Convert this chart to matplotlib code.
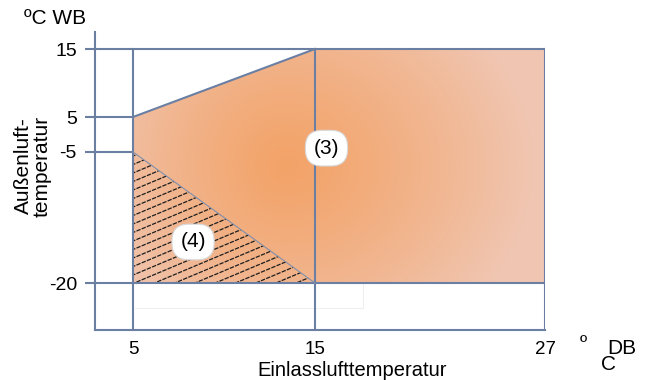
import numpy as np
import matplotlib.pyplot as plt
from matplotlib.patches import Polygon

# Einsatzbereich, Werte in °C
x_ticks = [5, 15, 27]
x_tick_labels = ["5", "15", "27"]
y_ticks = [15, 5, -5, -20]
y_tick_labels = ["15", "5", "-5", "-20"]

# Bereich (3): Heizbetrieb
area3_x = [5, 15, 27, 27, 5]
area3_y = [5, 15, 15, -20, -20]

# Bereich (4): schraffiert
area4_x = [5, 15, 5]
area4_y = [-5, -20, -20]

plt.rcParams['font.family'] = ['Liberation Sans', 'DejaVu Sans']

line_c = "#6b7fa3"

# die Achsen sind nicht linear, Stuetzstellen in Pixel
x_knots = [0, 5, 15, 27, 30]
x_px = [42, 133, 315, 545, 602.5]
y_knots = [-30, -20, -5, 5, 15, 20]
y_px = [9.67, 97, 228, 263, 331, 365]


def fwd_x(v):
    return np.interp(v, x_knots, x_px)


def inv_x(v):
    return np.interp(v, x_px, x_knots)


def fwd_y(v):
    return np.interp(v, y_knots, y_px)


def inv_y(v):
    return np.interp(v, y_px, y_knots)


fig = plt.figure(figsize=(6.48, 3.80), dpi=100)
ax = fig.add_axes([95 / 648, 50 / 380, 450 / 648, 298 / 380])
ax.set_xscale('function', functions=(fwd_x, inv_x))
ax.set_yscale('function', functions=(fwd_y, inv_y))

x0 = float(inv_x(95))
y0 = float(inv_y(50))
y1 = float(inv_y(348))

# Farbverlauf fuer Bereich (3)
W, H = 450, 298
xx, yy = np.meshgrid(np.arange(W) + 95, np.arange(H) + 32)
rx = np.where(xx < 285, 200, 250)
d = np.sqrt(((xx - 285) / rx) ** 2 + ((yy - 165) / 210) ** 2)
t = np.clip(d, 0, 1) ** 1.2
c_in = np.array([243, 163, 104]) / 255
c_out = np.array([240, 198, 178]) / 255
img = c_in * (1 - t)[..., None] + c_out * t[..., None]
im = ax.imshow(img, extent=(0, 1, 0, 1), transform=ax.transAxes,
               aspect='auto', zorder=1, interpolation='bilinear')

poly3 = Polygon(np.column_stack([area3_x, area3_y]), closed=True,
                fc='none', ec='none')
ax.add_patch(poly3)
im.set_clip_path(poly3)

# Schraffur fuer Bereich (4)
poly4 = Polygon(np.column_stack([area4_x, area4_y]), closed=True,
                fc='none', ec='none')
ax.add_patch(poly4)
for h0 in np.arange(-250, 300, 8.5):
    xs = np.array([0, 1])
    ys = (h0 + 0.42 * xs * W) / H
    ln, = ax.plot(xs, ys, transform=ax.transAxes, color="#1e1e1e", lw=0.9,
                  ls=(0, (3.5, 1.0)), zorder=2)
    ln.set_clip_path(poly4)

# Rasterlinien
for x in x_ticks:
    ax.plot([x, x], [y0, 15], color=line_c, lw=1.5, zorder=3)
ax.plot([x0, 27], [15, 15], color=line_c, lw=1.5, zorder=3)
ax.plot([x0, 5], [5, 5], color=line_c, lw=1.5, zorder=3)
ax.plot([x0, 5], [-5, -5], color=line_c, lw=1.5, zorder=3)
ax.plot([x0, 27], [-20, -20], color=line_c, lw=1.5, zorder=3)
ax.plot(area3_x[:2], area3_y[:2], color=line_c, lw=1.5, zorder=3)
ax.plot(area4_x[:2], area4_y[:2], color="#8090ad", lw=0.8, zorder=3)

# schwaches Rechteck unten
ax.plot([5.1, 17.5, 17.5], [-22.86, -22.86, -20], color="#efefef", lw=0.8, zorder=2)

ax.set_xlim(x0, 27)
ax.set_ylim(y0, y1)

for s in ['top', 'right']:
    ax.spines[s].set_visible(False)
for s in ['left', 'bottom']:
    ax.spines[s].set_color(line_c)
    ax.spines[s].set_linewidth(1.5)

ax.set_yticks(y_ticks, y_tick_labels)
ax.set_xticks(x_ticks, x_tick_labels)
ax.tick_params(axis='y', length=7, width=1.5, color=line_c, pad=6, labelsize=14)
ax.tick_params(axis='x', length=0, pad=8, labelsize=13.5)
ax.minorticks_off()

box = dict(boxstyle='round,pad=0.4,rounding_size=0.8', fc='white', ec='#d8d8d8', lw=0.8)
ax.text(15.6, -3.9, "(3)", fontsize=15, ha='center', va='center', bbox=box, zorder=5)
ax.text(8.3, -15.3, "(4)", fontsize=15, ha='center', va='center', bbox=box, zorder=5)

fig.text(55 / 648, 1 - 19 / 380, "ºC WB", fontsize=15, ha='center', va='center')
fig.text(33 / 648, 1 - 166 / 380, "Außenluft-\ntemperatur", fontsize=15,
         rotation=90, ha='center', va='center', linespacing=1.0)
fig.text(352 / 648, 1 - 371 / 380, "Einlasslufttemperatur", fontsize=14.5,
         ha='center', va='center')
fig.text(583 / 648, 1 - 344 / 380, "º", fontsize=14, ha='center', va='center')
fig.text(622 / 648, 1 - 349 / 380, "DB", fontsize=15, ha='center', va='center')
fig.text(608 / 648, 1 - 365 / 380, "C", fontsize=15, ha='center', va='center')

fig.savefig("out.png", dpi=100)
